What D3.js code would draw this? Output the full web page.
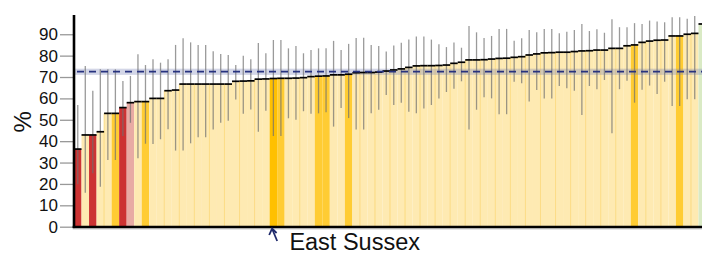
<!DOCTYPE html>
<html>
<head>
<meta charset="utf-8">
<script src="https://cdn.jsdelivr.net/npm/d3@7"></script>
<style>
  html, body { margin: 0; padding: 0; background: #fff; overflow: hidden; }
  svg { display: block; font-family: "Liberation Sans", Arial, sans-serif; }
</style>
</head>
<body>
<svg id="chart" width="702" height="255"></svg>
<script>
"use strict";

// value and 95% confidence limits for each area, sorted by value
var values = [
  36.3, 42.9, 42.9, 44.4, 53.0, 53.0, 55.7, 58.0, 58.5, 58.5,
  60.0, 60.0, 63.6, 63.9, 66.7, 66.7, 66.7, 66.7, 66.7, 66.7,
  66.7, 68.0, 68.1, 68.2, 69.0, 69.1, 69.3, 69.4, 69.4, 69.5,
  69.7, 70.2, 70.4, 70.5, 71.0, 71.0, 71.3, 72.0, 72.1, 72.1,
  72.3, 72.8, 73.3, 73.8, 74.5, 75.2, 75.3, 75.3, 75.4, 75.6,
  76.4, 76.9, 78.0, 78.0, 78.1, 78.4, 78.7, 78.8, 79.2, 79.5,
  80.3, 80.8, 81.3, 81.4, 81.6, 81.6, 81.9, 82.2, 82.3, 82.6,
  82.6, 83.4, 83.4, 84.6, 85.0, 86.2, 86.8, 87.2, 87.3, 89.2,
  89.2, 90.0, 90.4, 94.8
];
var lowerCI = [
  19.8, 15.9, 25.0, 18.7, 31.2, 31.2, 42.4, 48.6, 32.0, 38.8,
  38.7, 40.9, 45.6, 35.6, 35.6, 39.0, 41.8, 41.8, 45.4, 48.6,
  49.6, 59.5, 52.8, 54.8, 44.4, 54.2, 42.4, 42.4, 50.7, 50.0,
  54.0, 52.8, 53.0, 53.5, 46.8, 55.5, 50.8, 45.4, 45.4, 53.0,
  54.7, 61.6, 56.9, 58.0, 53.8, 53.0, 55.3, 56.9, 60.0, 63.0,
  64.5, 68.0, 45.4, 54.7, 60.5, 60.0, 52.6, 52.6, 67.8, 67.1,
  58.5, 63.9, 60.0, 60.0, 65.8, 64.7, 63.6, 52.2, 65.8, 64.3,
  68.6, 43.7, 64.3, 68.3, 58.0, 64.0, 66.0, 62.1, 67.8, 56.5,
  56.5, 59.6, 59.6, null
];
var upperCI = [
  56.9, 75.2, 63.6, 73.6, 73.6, 73.6, 68.1, 70.5, 80.7, 75.6,
  78.3, 76.7, 78.3, 85.0, 88.1, 86.2, 85.0, 85.0, 82.0, 80.8,
  80.3, 75.6, 80.0, 78.3, 85.9, 81.1, 87.3, 87.3, 83.4, 84.5,
  81.1, 82.6, 83.4, 83.4, 86.9, 82.6, 85.5, 88.2, 88.4, 85.0,
  84.5, 81.9, 84.7, 86.0, 87.6, 88.9, 88.9, 87.5, 85.3, 84.0,
  86.1, 83.7, 93.9, 90.9, 88.2, 89.2, 92.5, 92.5, 87.0, 88.1,
  92.0, 90.9, 92.4, 92.4, 90.5, 91.2, 92.0, 94.8, 91.5, 92.3,
  90.7, 97.0, 93.3, 93.3, 95.2, 94.8, 96.4, 96.0, 95.6, 97.9,
  97.9, 97.2, 98.5, null
];
// comparison group of each bar (drives the fill colour)
var groups = [
  'worse', 'similar', 'worse', 'similar', 'similar', 'region', 'worse', 'lower', 'similar', 'region',
  'similar', 'similar', 'similar', 'similar', 'similar', 'similar', 'similar', 'similar', 'similar', 'similar',
  'similar', 'similar', 'similar', 'similar', 'similar', 'similar', 'selected', 'region', 'similar', 'similar',
  'similar', 'similar', 'region', 'region', 'similar', 'similar', 'region', 'similar', 'similar', 'similar',
  'similar', 'similar', 'similar', 'similar', 'similar', 'similar', 'similar', 'similar', 'similar', 'similar',
  'similar', 'similar', 'similar', 'similar', 'similar', 'similar', 'similar', 'similar', 'similar', 'similar',
  'similar', 'similar', 'similar', 'similar', 'similar', 'similar', 'similar', 'similar', 'similar', 'similar',
  'similar', 'similar', 'similar', 'similar', 'region', 'similar', 'similar', 'similar', 'similar', 'similar',
  'region', 'similar', 'similar', 'better'
];
var yTicks = [0, 10, 20, 30, 40, 50, 60, 70, 80, 90];

// England average and its confidence band
var england = [72.5];
var englandCI = [71.0, 73.9];

var selectedLabel = 'East Sussex';

var fills = {
  worse: '#cc3333',
  lower: '#e8aba4',
  similar: '#feeab2',
  region: '#ffcc33',
  selected: '#ffc000',
  better: '#d9eac4'
};

var svg = d3.select('#chart');

var x = d3.scaleBand()
  .domain(d3.range(values.length))
  .range([74, 74 + values.length * 7.524]);
var y = d3.scaleLinear()
  .domain([0, 99])
  .range([226.7, 15]);
var bw = x.bandwidth();

// bars
svg.append('g')
  .selectAll('rect')
  .data(values)
  .enter()
  .append('rect')
  .attr('x', (d, i) => x(i))
  .attr('width', bw)
  .attr('y', d => y(d))
  .attr('height', d => y(0) - y(d))
  .attr('fill', (d, i) => fills[groups[i]]);

// faint seams between pale bars (only every other one shows in the original)
svg.append('g')
  .selectAll('line')
  .data(values.map((d, i) => i).filter(i => i % 2 == 0 && groups[i] == 'similar' && groups[i - 1] == 'similar'))
  .enter()
  .append('line')
  .attr('x1', i => x(i))
  .attr('x2', i => x(i))
  .attr('y1', i => y(values[i]))
  .attr('y2', y(0))
  .attr('stroke', '#fbd062')
  .attr('stroke-opacity', 0.7)
  .attr('stroke-width', 0.9);

// england confidence band
svg.append('rect')
  .attr('x', 74)
  .attr('width', 702 - 74)
  .attr('y', y(englandCI[1]))
  .attr('height', y(englandCI[0]) - y(englandCI[1]))
  .attr('fill', '#7f86b8')
  .attr('opacity', 0.34);

// error bars
svg.append('g')
  .selectAll('line')
  .data(values.map((d, i) => i).filter(i => lowerCI[i] != null))
  .enter()
  .append('line')
  .attr('x1', i => x(i) + bw / 2)
  .attr('x2', i => x(i) + bw / 2)
  .attr('y1', i => y(upperCI[i]))
  .attr('y2', i => y(lowerCI[i]))
  .attr('stroke', '#6f6f6f')
  .attr('stroke-opacity', 0.7)
  .attr('stroke-width', 1.3);

// value markers on top of each bar
svg.append('g')
  .selectAll('line')
  .data(values)
  .enter()
  .append('line')
  .attr('x1', (d, i) => x(i))
  .attr('x2', (d, i) => x(i) + bw)
  .attr('y1', d => y(d))
  .attr('y2', d => y(d))
  .attr('stroke', '#000')
  .attr('stroke-width', 1.7);

// england dashed line
svg.append('g')
  .selectAll('line')
  .data(england)
  .enter()
  .append('line')
  .attr('x1', 74)
  .attr('x2', 702)
  .attr('y1', d => y(d))
  .attr('y2', d => y(d))
  .attr('stroke', '#27327f')
  .attr('stroke-width', 1.7)
  .attr('stroke-dasharray', '7,5')
  .attr('stroke-dashoffset', -3);

// y axis
var yAxis = svg.append('g')
  .attr('transform', 'translate(74,0)')
  .call(d3.axisLeft(y).tickValues(yTicks).tickSize(14).tickPadding(2));
yAxis.select('.domain').remove();
yAxis.selectAll('.tick line')
  .attr('stroke', '#999')
  .attr('stroke-width', 1.3);
yAxis.selectAll('.tick text')
  .attr('fill', '#111')
  .style('font-size', '17px')
  .style('font-family', '"Liberation Sans", Arial, sans-serif');

svg.append('line')
  .attr('x1', 74).attr('x2', 74)
  .attr('y1', y(99)).attr('y2', y(0) + 1.4)
  .attr('stroke', '#000')
  .attr('stroke-width', 2.6);
svg.append('line')
  .attr('x1', 72.7).attr('x2', 702)
  .attr('y1', y(0) + 2.3).attr('y2', y(0) + 2.3)
  .attr('stroke', '#ccc')
  .attr('stroke-width', 1);
svg.append('line')
  .attr('x1', 72.7).attr('x2', 702)
  .attr('y1', y(0) + 0.3).attr('y2', y(0) + 0.3)
  .attr('stroke', '#000')
  .attr('stroke-width', 2.6);

svg.append('text')
  .attr('transform', 'translate(30.5,' + y(49) + ') rotate(-90)')
  .attr('text-anchor', 'middle')
  .attr('fill', '#111')
  .style('font-size', '24px')
  .text('%');

// pointer to the selected area
var sel = groups.indexOf('selected');
var cx = x(sel) + bw / 2;
svg.append('path')
  .attr('d', 'M' + (cx + 3.8) + ',241 L' + (cx - 1) + ',229.5')
  .attr('stroke', '#1f2a6b')
  .attr('stroke-width', 1.8)
  .attr('fill', 'none');
svg.append('path')
  .attr('d', 'M' + (cx - 4.2) + ',235 L' + (cx - 1.3) + ',228.6 L' + (cx + 3.2) + ',233')
  .attr('stroke', '#1f2a6b')
  .attr('stroke-width', 1.8)
  .attr('fill', 'none');
svg.append('text')
  .attr('x', cx + 16)
  .attr('y', 249.5)
  .attr('fill', '#111')
  .style('font-size', '23.5px')
  .text(selectedLabel);
</script>
</body>
</html>
